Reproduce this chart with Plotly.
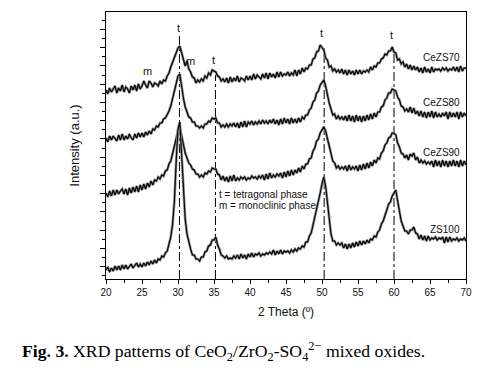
import plotly.graph_objects as go

# 2-theta scan positions (degrees), 0.25 deg steps from 20 to 70
two_theta = [20 + 0.25 * i for i in range(201)]

# Intensities (a.u., stacked as plotted)
cezs70 = [
    189,185,191,187,190,193,186,191,188,194,187,192,190,186,193,189,194,188,195,190,
    193,198,194,191,198,196,192,196,195,193,198,195,199,198,203,206,212,217,223,228,
    231,233,226,221,213,218,210,207,202,201,196,199,197,200,198,203,201,206,204,209,
    208,207,203,202,198,200,197,201,196,202,197,201,198,203,197,201,200,198,203,199,
    203,199,205,200,204,202,200,205,201,206,200,206,202,205,201,207,202,207,203,205,
    204,207,203,206,204,209,203,209,205,211,207,211,210,214,214,220,221,227,228,234,
    231,229,221,219,212,213,208,210,207,209,206,210,205,209,204,209,205,208,204,209,
    205,209,205,208,207,209,207,212,209,213,212,216,216,220,221,225,224,228,228,232,
    227,226,219,220,215,217,212,215,210,214,209,213,209,212,207,211,206,212,207,210,
    206,212,207,210,209,210,208,211,209,211,208,210,209,212,208,212,207,213,208,211,
    211]

cezs80 = [
    141,137,143,139,143,140,138,144,139,145,139,143,140,145,141,139,145,141,146,142,
    146,142,147,144,148,145,150,149,153,152,156,156,160,161,164,168,173,180,189,197,
    203,205,192,181,172,167,162,161,157,157,153,153,151,153,151,155,155,158,157,161,
    160,161,156,156,152,154,152,155,152,155,153,156,152,156,151,157,152,158,152,157,
    155,158,154,157,155,158,155,159,156,158,155,159,156,160,155,159,154,160,155,161,
    156,160,155,161,156,160,156,161,157,162,160,164,164,169,171,177,179,186,188,194,
    197,199,193,184,176,170,164,165,160,163,160,162,159,163,158,164,158,163,157,164,
    158,163,157,163,158,164,159,165,160,166,162,167,167,172,173,179,181,186,186,190,
    189,188,182,179,173,172,168,170,167,172,166,171,165,168,163,168,162,167,161,167,
    162,168,161,167,162,165,162,166,163,167,160,167,162,166,162,167,160,167,162,166,
    163]

cezs90 = [
    86,82,88,83,89,84,89,85,88,90,85,90,84,91,86,92,87,93,87,94,
    89,95,90,96,92,98,94,99,98,102,100,104,103,108,109,115,118,126,131,140,
    148,152,143,133,126,121,116,114,110,109,105,105,102,104,102,106,105,108,107,111,
    110,110,105,104,99,103,98,102,97,103,98,104,98,101,99,102,100,102,99,101,
    100,103,101,102,100,103,101,104,99,105,100,106,101,104,102,105,103,106,101,107,
    102,108,103,109,104,109,106,111,107,113,110,115,115,120,121,128,131,138,140,146,
    149,152,148,141,133,126,118,116,111,113,110,112,110,113,108,114,109,112,110,113,
    108,114,109,115,110,116,111,117,113,119,116,121,120,126,128,134,136,141,142,146,
    146,144,136,132,126,125,121,124,119,125,123,126,119,122,116,119,116,118,115,117,
    115,118,112,119,113,118,112,119,113,118,112,118,113,119,113,118,112,119,113,118,
    114]

zs100 = [
    9,12,7,11,8,13,9,13,9,14,10,14,10,13,15,11,14,16,12,15,
    12,16,13,17,14,18,15,19,16,20,19,23,22,26,28,34,42,55,78,118,
    150,157,122,84,60,45,36,30,24,24,20,20,18,22,22,27,28,33,34,39,
    39,42,34,30,24,23,21,23,20,21,20,23,21,24,20,25,21,24,20,25,
    22,26,22,25,24,26,23,25,24,26,25,27,25,29,24,28,25,29,25,28,
    27,28,26,29,27,30,28,31,30,33,32,37,37,43,46,54,59,69,76,86,
    95,102,93,76,58,45,38,38,34,36,34,36,31,35,30,35,31,36,32,37,
    33,38,34,38,35,39,36,40,39,43,42,47,49,55,58,65,69,75,77,83,
    86,89,78,66,58,53,48,48,45,49,49,52,46,45,40,44,39,43,38,43,
    39,41,40,42,39,41,40,42,36,42,37,42,38,40,39,41,38,40,39,41,
    38]

series_names = ["CeZS70", "CeZS80", "CeZS90", "ZS100"]
series_values = [cezs70, cezs80, cezs90, zs100]
series_label_y = [222, 177, 127, 50]
for v in series_values:
    assert len(v) == len(two_theta), len(v)

# reference peak positions (dash-dot guide lines) and their top heights
peak_positions = [30.2, 35.2, 50.3, 60.0]
peak_line_tops = [244, 204, 232, 227]

# phase markers above peaks
phase_marks = ["t", "m", "m", "t", "t", "t"]
phase_x = [30.1, 25.7, 31.8, 34.9, 49.96, 59.7]
phase_y = [251, 208, 218, 219, 246, 244]

legend_lines = ["t = tetragonal phase", "m = monoclinic phase"]
legend_x = 35.45
legend_y = [84.5, 73.5]

x_ticks = [20, 25, 30, 35, 40, 45, 50, 55, 60, 65, 70]

fig = go.Figure()

for px, top in zip(peak_positions, peak_line_tops):
    fig.add_trace(go.Scatter(x=[px, px], y=[0, top], mode="lines",
                             line=dict(color="black", width=1, dash="dashdot"),
                             hoverinfo="skip", showlegend=False))

for name, vals in zip(series_names, series_values):
    fig.add_trace(go.Scatter(x=two_theta, y=vals, mode="lines", name=name,
                             line=dict(color="#8a8a8a", width=2.6),
                             hoverinfo="skip", showlegend=False))
    fig.add_trace(go.Scatter(x=two_theta, y=vals, mode="lines", name=name,
                             line=dict(color="black", width=1.1),
                             showlegend=False))

annotations = []
for name, ly in zip(series_names, series_label_y):
    annotations.append(dict(x=69.5, y=ly, xref="x", yref="y", text=name,
                            showarrow=False, xanchor="right", yanchor="middle",
                            font=dict(family="Liberation Sans, Arial", size=10, color="#111")))
for t, xx, yy in zip(phase_marks, phase_x, phase_y):
    annotations.append(dict(x=xx, y=yy, xref="x", yref="y", text=t,
                            showarrow=False, xanchor="center", yanchor="middle",
                            font=dict(family="Liberation Sans, Arial", size=11, color="#111")))
for t, yy in zip(legend_lines, legend_y):
    annotations.append(dict(x=legend_x, y=yy, xref="x", yref="y", text=t,
                            showarrow=False, xanchor="left", yanchor="middle",
                            font=dict(family="Liberation Sans, Arial", size=10, color="#111")))
annotations.append(dict(
    x=0.3264, y=-0.27, xref="paper", yref="paper", xanchor="center", yanchor="middle",
    showarrow=False,
    text="<b>Fig. 3.</b> XRD patterns of CeO<sub>2</sub>/ZrO<sub>2</sub>-SO<sub>4</sub><sup>2\u2212</sup> mixed oxides.",
    font=dict(family="Liberation Serif, Times New Roman", size=17.7, color="black")))

fig.update_layout(
    width=483, height=375,
    margin=dict(l=106, r=17, t=12, b=96, autoexpand=False),
    paper_bgcolor="white", plot_bgcolor="white",
    showlegend=False, hovermode=False,
    annotations=annotations,
    xaxis=dict(range=[20, 70], tickvals=x_ticks, ticks="outside", ticklen=4,
               tickcolor="black", showline=True, linecolor="black", linewidth=1,
               mirror=True, showgrid=False, zeroline=False, automargin=False,
               minor=dict(ticks="outside", ticklen=3, dtick=2.5, tick0=20, tickcolor="black"),
               tickfont=dict(family="Liberation Sans, Arial", size=10, color="#111"),
               title=dict(text="2 Theta (\u00ba)", standoff=10,
                          font=dict(family="Liberation Sans, Arial", size=12, color="#111"))),
    yaxis=dict(range=[0, 267], tick0=12.3, dtick=18.25, ticks="outside", ticklen=5,
               tickcolor="black", showticklabels=False, showline=True, linecolor="black",
               linewidth=1, mirror=True, showgrid=False, zeroline=False, automargin=False,
               minor=dict(ticks="outside", ticklen=3, dtick=9.125, tick0=12.3, tickcolor="black"),
               title=dict(text="Intensity (a.u.)", standoff=17,
                          font=dict(family="Liberation Sans, Arial", size=13, color="#111"))),
)

fig.write_html("out.html", config={"displayModeBar": False},
               post_script="document.body.style.margin='0';document.body.style.padding='0';")
